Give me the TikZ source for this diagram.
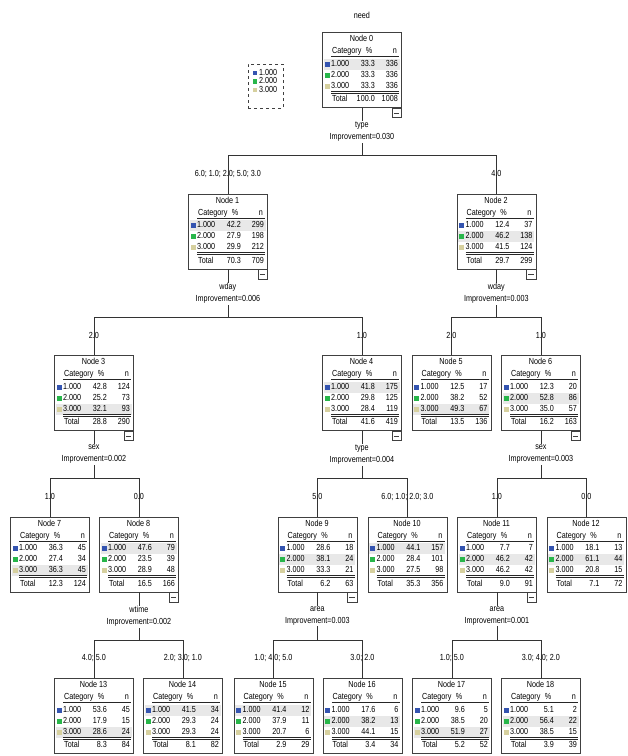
\documentclass[tikz,border=0pt]{standalone}
\usepackage{fontspec}
\setmainfont{Liberation Sans}[FakeStretch=0.82]
\usetikzlibrary{positioning}
\definecolor{cat1}{RGB}{52,84,176}
\definecolor{cat2}{RGB}{40,182,74}
\definecolor{cat3}{RGB}{214,208,158}
\tikzset{
  catbox/.style={draw=black!75, line width=0.8pt, minimum width=79pt, minimum height=75pt, inner sep=0pt, anchor=north west},
  cell/.style={inner sep=0pt, text height=6.2pt, text depth=1.6pt},
  rule/.style={line width=0.6pt, black!85},
  rowshade/.style={fill=black!9},
  link/.style={black!80, line width=0.7pt},
  split/.style={fill=white, align=center, inner sep=1pt},
  branch/.style={inner sep=1pt},
  legendbox/.style={draw=black!75, dashed, line width=0.7pt, minimum width=35pt, minimum height=44pt},
  minusbox/.style={draw=black!75, line width=0.7pt, minimum size=9.5pt, inner sep=0pt, anchor=north east,
    path picture={\draw[line width=0.6pt] ([xshift=2pt]path picture bounding box.west) -- ([xshift=-2pt]path picture bounding box.east);}}
}
\newcommand{\catnode}[7]{%
  \begin{scope}[shift={(#2-39.5,#3)}]
    \fill[rowshade] (1.5,{15.5+11*#4}) rectangle (77.5,{26.5+11*#4});
    \node[catbox] (n#1) at (0,0) {};
    \node[cell] at (39.5,7.5) {Node #1};
    \node[cell,anchor=west] at (10,19.5) {Category};
    \node[cell] at (47,19.5) {\%};
    \node[cell,anchor=east] at (75,19.5) {n};
    \draw[rule] (9,24.5) -- (77,24.5);
    \foreach \p/\k [count=\i] in {#5} {
      \fill[cat\i] (2.5,{18.5+11*\i}) rectangle ++(5,5);
      \node[cell,anchor=west] at (9,{21+11*\i}) {\i.000};
      \node[cell,anchor=east] at (53,{21+11*\i}) {\p};
      \node[cell,anchor=east] at (76,{21+11*\i}) {\k};
    }
    \draw[rule] (9,59) -- (77,59) (9,61) -- (77,61);
    \node[cell,anchor=west] at (10,67.5) {Total};
    \node[cell,anchor=east] at (53,67.5) {#6};
    \node[cell,anchor=east] at (76,67.5) {#7};
  \end{scope}}
\newcommand{\minus}[1]{\node[minusbox] (m#1) at (n#1.south east) {};}
\begin{document}
\begin{tikzpicture}[x=1pt, y=-1pt, font=\fontsize{8.8}{12}\selectfont]
\useasboundingbox (0,0) rectangle (628,756);
\catnode{0}{361.5}{32}{1}{33.3/336,33.3/336,33.3/336}{100.0}{1008}
\catnode{1}{227.5}{193.5}{1}{42.2/299,27.9/198,29.9/212}{70.3}{709}
\catnode{2}{496}{193.5}{2}{12.4/37,46.2/138,41.5/124}{29.7}{299}
\catnode{3}{93.5}{355}{3}{42.8/124,25.2/73,32.1/93}{28.8}{290}
\catnode{4}{361.5}{355}{1}{41.8/175,29.8/125,28.4/119}{41.6}{419}
\catnode{5}{451}{355}{3}{12.5/17,38.2/52,49.3/67}{13.5}{136}
\catnode{6}{540.5}{355}{2}{12.3/20,52.8/86,35.0/57}{16.2}{163}
\catnode{7}{49.5}{516.5}{3}{36.3/45,27.4/34,36.3/45}{12.3}{124}
\catnode{8}{138.5}{516.5}{1}{47.6/79,23.5/39,28.9/48}{16.5}{166}
\catnode{9}{317}{516.5}{2}{28.6/18,38.1/24,33.3/21}{6.2}{63}
\catnode{10}{407}{516.5}{1}{44.1/157,28.4/101,27.5/98}{35.3}{356}
\catnode{11}{496.5}{516.5}{2}{7.7/7,46.2/42,46.2/42}{9.0}{91}
\catnode{12}{586}{516.5}{2}{18.1/13,61.1/44,20.8/15}{7.1}{72}
\catnode{13}{93.5}{678}{3}{53.6/45,17.9/15,28.6/24}{8.3}{84}
\catnode{14}{182.5}{678}{1}{41.5/34,29.3/24,29.3/24}{8.1}{82}
\catnode{15}{273}{678}{1}{41.4/12,37.9/11,20.7/6}{2.9}{29}
\catnode{16}{362}{678}{2}{17.6/6,38.2/13,44.1/15}{3.4}{34}
\catnode{17}{451.5}{678}{3}{9.6/5,38.5/20,51.9/27}{5.2}{52}
\catnode{18}{540.5}{678}{2}{5.1/2,56.4/22,38.5/15}{3.9}{39}
\foreach \k in {0,1,2,3,4,6,8,9,11} {\minus{\k}}
\node (need) at ([yshift=17pt]n0.north) {need};
\node[legendbox] (legend) at (265.5,86) {};
\foreach \i/\yy in {1/73,2/81.5,3/90} {
  \fill[cat\i] (252.5,\yy-2.3) rectangle ++(4.5,4.5);
  \node[cell,anchor=west] (key\i) at (259,\yy) {\i.000};
}
\begin{scope}[link]
  \draw (n0.south) -- ++(0,48) -| (n1.north);
  \draw (n0.south) -- ++(0,48) -| (n2.north);
  \draw (n1.south) -- ++(0,48) -| (n3.north);
  \draw (n1.south) -- ++(0,48) -| (n4.north);
  \draw (n2.south) -- ++(0,48) -| (n5.north);
  \draw (n2.south) -- ++(0,48) -| (n6.north);
  \draw (n3.south) -- ++(0,48) -| (n7.north);
  \draw (n3.south) -- ++(0,48) -| (n8.north);
  \draw (n4.south) -- ++(0,48) -| (n9.north);
  \draw (n4.south) -- ++(0,48) -| (n10.north);
  \draw (n6.south) -- ++(0,48) -| (n11.north);
  \draw (n6.south) -- ++(0,48) -| (n12.north);
  \draw (n8.south) -- ++(0,48) -| (n13.north);
  \draw (n8.south) -- ++(0,48) -| (n14.north);
  \draw (n9.south) -- ++(0,48) -| (n15.north);
  \draw (n9.south) -- ++(0,48) -| (n16.north);
  \draw (n11.south) -- ++(0,48) -| (n17.north);
  \draw (n11.south) -- ++(0,48) -| (n18.north);
\end{scope}
\node[split, below=13pt of n0] (s0) {type\\Improvement=0.030};
\node[split, below=13pt of n1] (s1) {wday\\Improvement=0.006};
\node[split, below=13pt of n2] (s2) {wday\\Improvement=0.003};
\node[split, below=13pt of n3] (s3) {sex\\Improvement=0.002};
\node[split, below=13pt of n4] (s4) {type\\Improvement=0.004};
\node[split, below=13pt of n6] (s6) {sex\\Improvement=0.003};
\node[split, below=13pt of n8] (s8) {wtime\\Improvement=0.002};
\node[split, below=13pt of n9] (s9) {area\\Improvement=0.003};
\node[split, below=13pt of n11] (s11) {area\\Improvement=0.001};
\node[branch] (b1) at ([yshift=20pt]n1.north) {6.0; 1.0; 2.0; 5.0; 3.0};
\node[branch] (b2) at ([yshift=20pt]n2.north) {4.0};
\node[branch] (b3) at ([yshift=20pt]n3.north) {2.0};
\node[branch] (b4) at ([yshift=20pt]n4.north) {1.0};
\node[branch] (b5) at ([yshift=20pt]n5.north) {2.0};
\node[branch] (b6) at ([yshift=20pt]n6.north) {1.0};
\node[branch] (b7) at ([yshift=20pt]n7.north) {1.0};
\node[branch] (b8) at ([yshift=20pt]n8.north) {0.0};
\node[branch] (b9) at ([yshift=20pt]n9.north) {5.0};
\node[branch] (b10) at ([yshift=20pt]n10.north) {6.0; 1.0; 2.0; 3.0};
\node[branch] (b11) at ([yshift=20pt]n11.north) {1.0};
\node[branch] (b12) at ([yshift=20pt]n12.north) {0.0};
\node[branch] (b13) at ([yshift=20pt]n13.north) {4.0; 5.0};
\node[branch] (b14) at ([yshift=20pt]n14.north) {2.0; 3.0; 1.0};
\node[branch] (b15) at ([yshift=20pt]n15.north) {1.0; 4.0; 5.0};
\node[branch] (b16) at ([yshift=20pt]n16.north) {3.0; 2.0};
\node[branch] (b17) at ([yshift=20pt]n17.north) {1.0; 5.0};
\node[branch] (b18) at ([yshift=20pt]n18.north) {3.0; 4.0; 2.0};
\end{tikzpicture}
\end{document}
